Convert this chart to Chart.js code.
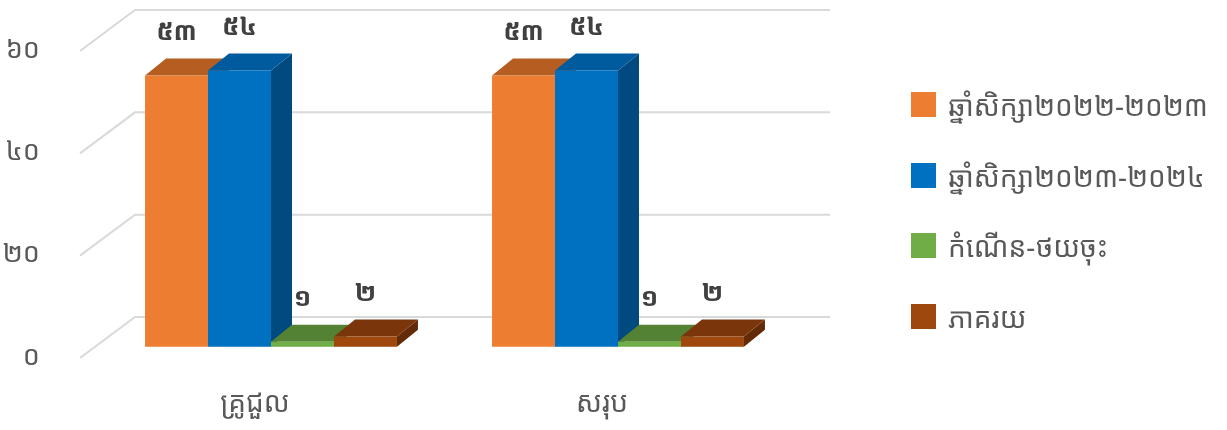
<!DOCTYPE html>
<html><head><meta charset="utf-8">
<script src="https://cdn.jsdelivr.net/npm/chart.js@4/dist/chart.umd.min.js"></script>
<style>
html,body{margin:0;padding:0;background:#fff;overflow:hidden}
#wrap{position:relative;width:1227px;height:430px}
canvas{position:absolute;left:0;top:0}
#legend{position:absolute;left:911px;top:0;font-family:"Noto Sans Khmer","Khmer OS","Noto Sans",Roboto,sans-serif;font-size:28px;color:#595959}
.item{position:absolute;left:0;height:25px;display:flex;align-items:center;white-space:nowrap}
.sw{width:25px;height:25px;margin-right:12px;flex:none}
</style>
</head><body>
<div id="wrap"><canvas id="c" width="1227" height="430"></canvas><div id="legend"></div></div>
<script>
// ---- data ----
const categories = ['គ្រូជួល', 'សរុប'];
const seriesNames = ['ឆ្នាំសិក្សា២០២២-២០២៣', 'ឆ្នាំសិក្សា២០២៣-២០២៤', 'កំណើន-ថយចុះ', 'ភាគរយ'];
const year2022 = [53, 53];
const year2023 = [54, 54];
const change = [1, 1];
const percent = [2, 2];
const yTickValues = [0, 20, 40, 60];

// ---- styles ----
const frontColors = ['#ED7D31', '#0070C0', '#70AD47', '#9E480E'];
const topColors = ['#B65D22', '#005A9E', '#548235', '#7A350A'];
const sideColors = ['#A55420', '#004A80', '#4A7530', '#622A07'];
const FONT = '"Noto Sans Khmer","Khmer OS","Noto Sans",Roboto,sans-serif';
const DX = 21, DY = -17;          // bar depth
const WDX = 55, WDY = -40;        // wall depth
const FRONT_SHIFT = -17.5;

const khDigits = '០១២៣៤៥៦៧៨៩';
const kh = v => String(v).replace(/[0-9]/g, d => khDigits[+d]);

const plugin3d = {
  id: 'threeD',
  beforeDatasetsDraw(chart) {
    const ctx = chart.ctx, ya = chart.scales.y, ca = chart.chartArea;
    ctx.save();
    ctx.strokeStyle = '#D9D9D9';
    ctx.lineWidth = 2;
    ya.ticks.forEach(t => {
      const fy = ya.getPixelForValue(t.value);
      const fx = ca.left + FRONT_SHIFT;
      ctx.beginPath();
      ctx.moveTo(fx, fy + 1);
      ctx.lineTo(fx + WDX, fy + WDY);
      ctx.lineTo(ca.right + 38.5, fy + WDY);
      ctx.stroke();
    });
    const n = chart.data.labels.length;
    for (let i = 0; i < n; i++) {
      chart.data.datasets.forEach((ds, di) => {
        const el = chart.getDatasetMeta(di).data[i];
        const p = el.getProps(['x', 'y', 'base', 'width'], true);
        const l = p.x - p.width / 2, r = p.x + p.width / 2, y = p.y, b = p.base;
        ctx.fillStyle = sideColors[di];
        ctx.beginPath();
        ctx.moveTo(r, y); ctx.lineTo(r + DX, y + DY); ctx.lineTo(r + DX, b + DY); ctx.lineTo(r, b);
        ctx.closePath(); ctx.fill();
        ctx.fillStyle = topColors[di];
        ctx.beginPath();
        ctx.moveTo(l, y); ctx.lineTo(l + DX, y + DY); ctx.lineTo(r + DX, y + DY); ctx.lineTo(r, y);
        ctx.closePath(); ctx.fill();
        ctx.fillStyle = frontColors[di];
        ctx.fillRect(l, y, r - l, b - y);
      });
    }
    ctx.restore();
    return false;
  },
  afterDraw(chart) {
    const ctx = chart.ctx;
    ctx.save();
    ctx.font = 'bold 26px ' + FONT;
    ctx.fillStyle = '#404040';
    ctx.textAlign = 'center';
    ctx.textBaseline = 'middle';
    chart.data.datasets.forEach((ds, di) => {
      chart.getDatasetMeta(di).data.forEach((el, i) => {
        const p = el.getProps(['x', 'y'], true);
        ctx.fillText(kh(ds.data[i]), p.x, p.y - 43);
      });
    });
    ctx.restore();
  }
};

const seriesData = [year2022, year2023, change, percent];
new Chart(document.getElementById('c'), {
  type: 'bar',
  data: {
    labels: categories,
    datasets: seriesNames.map((name, i) => ({
      label: name,
      data: seriesData[i],
      backgroundColor: frontColors[i],
      yAxisID: 'yb',
      barPercentage: 1,
      categoryPercentage: 0.726
    }))
  },
  options: {
    responsive: false,
    animation: false,
    events: [],
    layout: { padding: { left: 0, right: 435.5, top: 50, bottom: 0 } },
    plugins: { legend: { display: false }, tooltip: { enabled: false } },
    scales: {
      x: {
        grid: { display: false, drawTicks: false },
        border: { display: false },
        ticks: { labelOffset: -16, padding: 30, color: '#595959', font: { family: FONT, size: 28 } },
        afterFit: s => { s.height = 73; s.paddingLeft = 0; s.paddingRight = 0; }
      },
      y: {
        position: 'left',
        min: 0, max: 60,
        afterBuildTicks: s => { s.ticks = yTickValues.map(v => ({ value: v })); },
        grid: { display: false, drawTicks: false },
        border: { display: false },
        ticks: { padding: 57.5, color: '#595959', font: { family: FONT, size: 27 }, callback: v => kh(v) },
        afterFit: s => { s.width = 97.5; s.paddingTop = 0; s.paddingBottom = 0; }
      },
      yb: {
        display: false,
        min: -2, max: 58
      }
    }
  },
  plugins: [plugin3d]
});

// legend
const lg = document.getElementById('legend');
const tops = [92, 163, 233, 304];
seriesNames.forEach((name, i) => {
  const d = document.createElement('div');
  d.className = 'item';
  d.style.top = tops[i] + 'px';
  d.innerHTML = '<span class="sw" style="background:' + frontColors[i] + '"></span><span>' + name + '</span>';
  lg.appendChild(d);
});
</script>
</body></html>
